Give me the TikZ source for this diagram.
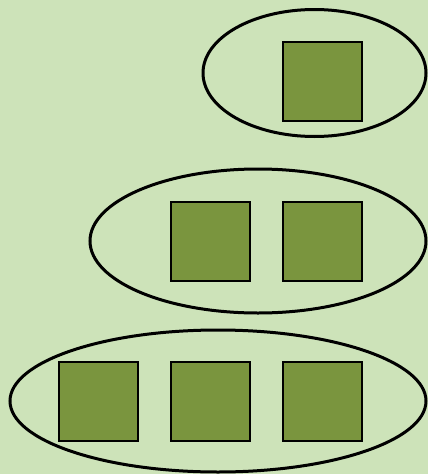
\documentclass[tikz,border=0pt]{standalone}
\usetikzlibrary{shapes.geometric}
\definecolor{bg}{RGB}{205,227,185}
\definecolor{sq}{RGB}{122,149,62}
\begin{document}
\begin{tikzpicture}[x=1pt,y=-1pt,
  box/.style={draw=black,line width=2pt,fill=sq,minimum size=79pt,inner sep=0pt,outer sep=0pt,rectangle},
  ring/.style={draw=black,line width=3pt,ellipse,inner sep=0pt,outer sep=0pt}]
\fill[bg] (0,0) rectangle (428,474);
\useasboundingbox (0,0) rectangle (428,474);
% top
\node[ring,minimum width=223pt,minimum height=127pt] (e1) at (314.5,73) {};
\node[box] (a1) at (322.5,81.5) {};
% middle
\node[ring,minimum width=336pt,minimum height=144pt] (e2) at (258,241) {};
\node[box] (b1) at (210.5,241.5) {};
\node[box] (b2) at (322.5,241.5) {};
% bottom
\node[ring,minimum width=416pt,minimum height=142pt] (e3) at (218,401) {};
\node[box] (c1) at (98.5,401.5) {};
\node[box] (c2) at (210.5,401.5) {};
\node[box] (c3) at (322.5,401.5) {};
\end{tikzpicture}
\end{document}
